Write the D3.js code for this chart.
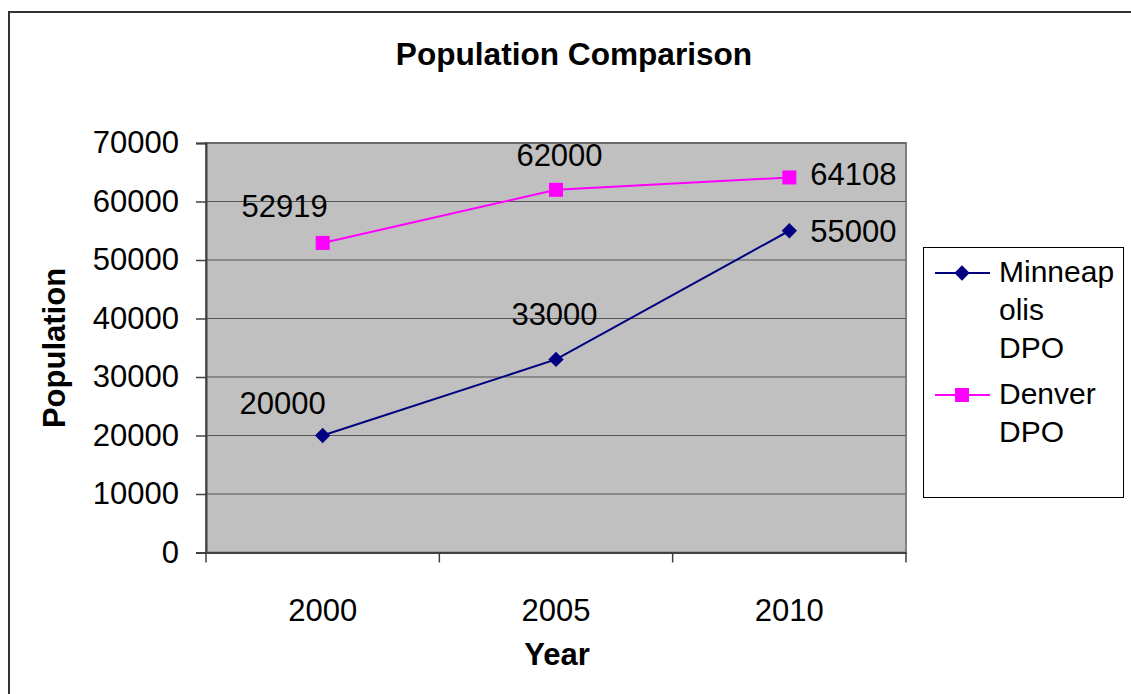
<!DOCTYPE html>
<html><head><meta charset="utf-8">
<script src="https://cdn.jsdelivr.net/npm/d3@7"></script>
<style>body{margin:0;background:#fff;}svg{display:block;font-family:"Liberation Sans",Arial,sans-serif;}</style>
</head><body>
<svg id="c" width="1131" height="694"></svg>
<script>
const years = ["2000", "2005", "2010"];
const minneapolis = [20000, 33000, 55000];
const denver = [52919, 62000, 64108];
const seriesNames = [["Minneap", "olis", "DPO"], ["Denver", "DPO"]];
const yTicks = [0, 10000, 20000, 30000, 40000, 50000, 60000, 70000];
// label offsets (layout only): [dx, dy, anchor]
const minLabelPos = [[-40, -22, "middle"], [-1.5, -34, "middle"], [21, 11, "start"]];
const denLabelPos = [[-38, -26, "middle"], [3.5, -24, "middle"], [21, 8, "start"]];

const svg = d3.select("#c");
const L = 206, R = 906, T = 143, B = 552.5;
const x = d3.scaleBand().domain(years).range([L, R]);
const y = d3.scaleLinear().domain([0, 70000]).range([B, T]);
const FS = 31;

// outer border
svg.append("rect").attr("x", 9).attr("y", 12).attr("width", 1140).attr("height", 700)
  .attr("fill", "#fff").attr("stroke", "#333").attr("stroke-width", 2);

// title
svg.append("text").attr("x", 574).attr("y", 65).attr("text-anchor", "middle")
  .attr("font-weight", "bold").attr("font-size", 31.6).text("Population Comparison");

// plot area
svg.append("rect").attr("x", L).attr("y", T).attr("width", R - L).attr("height", B - T)
  .attr("fill", "#c0c0c0").attr("stroke", "#808080").attr("stroke-width", 2);

// gridlines
svg.append("g").selectAll("line").data(yTicks.filter(d => d > 0)).join("line")
  .attr("x1", L).attr("x2", R).attr("y1", d => y(d)).attr("y2", d => y(d))
  .attr("stroke", "#555").attr("stroke-width", 1);

// y axis
const yAxis = svg.append("g").attr("transform", `translate(${L},0)`)
  .call(d3.axisLeft(y).tickValues(yTicks).tickSize(10).tickPadding(17).tickFormat(d3.format("d")));
yAxis.select(".domain").attr("stroke", "#404040").attr("stroke-width", 2);
yAxis.selectAll(".tick line").attr("stroke", "#404040").attr("stroke-width", 1.5);
yAxis.selectAll("text").attr("font-size", FS).attr("font-family", "Liberation Sans, Arial, sans-serif").attr("fill", "#000");

// x axis
const xAxis = svg.append("g").attr("transform", `translate(0,${B})`)
  .call(d3.axisBottom(x).tickSize(0).tickPadding(46));
xAxis.select(".domain").attr("stroke", "#404040").attr("stroke-width", 2);
xAxis.selectAll("text").attr("font-size", FS).attr("font-family", "Liberation Sans, Arial, sans-serif").attr("fill", "#000");
// category boundary ticks
const bounds = years.map(d => x(d)).concat([x(years[years.length - 1]) + x.bandwidth()]);
svg.append("g").selectAll("line").data(bounds).join("line")
  .attr("x1", d => d).attr("x2", d => d).attr("y1", B).attr("y2", B + 10)
  .attr("stroke", "#404040").attr("stroke-width", 1.5);

// axis titles
svg.append("text").attr("x", 557).attr("y", 665).attr("text-anchor", "middle")
  .attr("font-weight", "bold").attr("font-size", FS).text("Year");
svg.append("text").attr("transform", "translate(65,348) rotate(-90)").attr("text-anchor", "middle")
  .attr("font-weight", "bold").attr("font-size", FS).text("Population");

const cx = d => x(d) + x.bandwidth() / 2;
const line = d3.line().x(d => cx(d.year)).y(d => y(d.v));
const minData = years.map((yr, i) => ({year: yr, v: minneapolis[i]}));
const denData = years.map((yr, i) => ({year: yr, v: denver[i]}));
const diamond = d3.symbol(d3.symbolDiamond2, 150)();

// Minneapolis
svg.append("path").datum(minData).attr("d", line).attr("fill", "none").attr("stroke", "#000080").attr("stroke-width", 2);
svg.append("g").selectAll("path").data(minData).join("path")
  .attr("d", diamond)
  .attr("transform", d => `translate(${cx(d.year)},${y(d.v)})`).attr("fill", "#000080");
// Denver
svg.append("path").datum(denData).attr("d", line).attr("fill", "none").attr("stroke", "#ff00ff").attr("stroke-width", 2);
svg.append("g").selectAll("rect").data(denData).join("rect")
  .attr("x", d => cx(d.year) - 7).attr("y", d => y(d.v) - 7).attr("width", 14).attr("height", 14)
  .attr("fill", "#ff00ff");

// data labels
svg.append("g").selectAll("text").data(minData).join("text")
  .attr("x", (d, i) => cx(d.year) + minLabelPos[i][0]).attr("y", (d, i) => y(d.v) + minLabelPos[i][1])
  .attr("text-anchor", (d, i) => minLabelPos[i][2]).attr("font-size", FS).text(d => d.v);
svg.append("g").selectAll("text").data(denData).join("text")
  .attr("x", (d, i) => cx(d.year) + denLabelPos[i][0]).attr("y", (d, i) => y(d.v) + denLabelPos[i][1])
  .attr("text-anchor", (d, i) => denLabelPos[i][2]).attr("font-size", FS).text(d => d.v);

// legend
const lg = svg.append("g");
lg.append("rect").attr("x", 923.5).attr("y", 247.5).attr("width", 200).attr("height", 250)
  .attr("fill", "#fff").attr("stroke", "#000").attr("stroke-width", 1);
const colors = ["#000080", "#ff00ff"];
const legY = [273, 395];
seriesNames.forEach((lines, i) => {
  lg.append("line").attr("x1", 935).attr("x2", 990).attr("y1", legY[i]).attr("y2", legY[i])
    .attr("stroke", colors[i]).attr("stroke-width", 2);
  if (i === 0) {
    lg.append("path").attr("d", diamond)
      .attr("transform", `translate(962,${legY[i]})`).attr("fill", colors[i]);
  } else {
    lg.append("rect").attr("x", 955).attr("y", legY[i] - 7).attr("width", 14).attr("height", 14).attr("fill", colors[i]);
  }
  lines.forEach((t, j) => {
    lg.append("text").attr("x", 999).attr("y", legY[i] + 9 + j * 38).attr("font-size", 30).text(t);
  });
});
</script>
</body></html>
